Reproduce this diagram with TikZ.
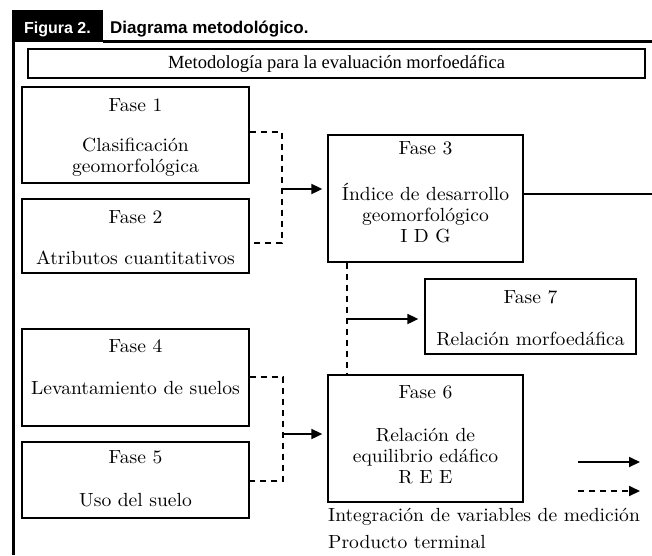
\documentclass[tikz,border=0pt]{standalone}
\usepackage{fontspec}
\setmainfont{lmroman10-regular.otf}[BoldFont=lmroman10-bold.otf,ItalicFont=lmroman10-italic.otf,FakeStretch=1.03]
\newfontfamily\hdrfont{Liberation Sans}
\newfontfamily\timesfont{Liberation Serif}
\usetikzlibrary{arrows.meta}
\begin{document}
\begin{tikzpicture}[x=1pt,y=-1pt,
  box/.style={draw,line width=1.3pt,inner sep=0pt},
  txt/.style={font=\fontsize{19}{21}\selectfont,align=center,inner sep=0pt},
  dsh/.style={line width=1.8pt,dash pattern=on 6pt off 5pt},
  arr/.style={line width=1.8pt,-{Triangle[length=11pt,width=10pt]}},
  darr/.style={line width=1.8pt,dash pattern=on 6pt off 5pt,-{Triangle[length=11pt,width=10pt]}}]
\useasboundingbox (0,0) rectangle (652,555);
% header
\fill[black] (12,10) rectangle (103,42);
\draw[line width=3pt] (13.5,10) -- (13.5,555);
\draw[line width=2.5pt] (103,41.5) -- (652,41.5);
\node[font=\hdrfont\bfseries\fontsize{16}{18}\selectfont,text=white,inner sep=0pt] (hf) at (57.5,29) {Figura 2.};
\node[font=\hdrfont\bfseries\fontsize{17}{18}\selectfont,inner sep=0pt,anchor=west] (hd) at (110,29) {Diagrama metodológico.};
% title
\node[box,minimum width=617,minimum height=29,font=\timesfont\fontsize{18.5}{21}\selectfont] (title) at (336.5,63.5) {Metodología para la evaluación morfoedáfica};
% boxes
\node[box,minimum width=227,minimum height=96] (f1) at (135.5,135) {};
\node[box,minimum width=227,minimum height=74] (f2) at (135.5,236) {};
\node[box,minimum width=195,minimum height=127] (f3) at (425.5,198.5) {};
\node[box,minimum width=211,minimum height=75] (f7) at (530.5,316.5) {};
\node[box,minimum width=195,minimum height=127] (f6) at (425.5,438.5) {};
\node[box,minimum width=227,minimum height=97] (f4) at (135.5,377.5) {};
\node[box,minimum width=227,minimum height=76] (f5) at (135.5,480) {};
% texts
\node[txt] (t1a) at (135.5,105) {Fase 1};
\node[txt] (t1b) at (135.5,157.5) {Clasificación\\geomorfológica};
\node[txt] (t2a) at (135.5,217) {Fase 2};
\node[txt] (t2b) at (135.5,258) {Atributos cuantitativos};
\node[txt] (t3a) at (425.5,148) {Fase 3};
\node[txt] (t3b) at (425.5,213) {Índice de desarrollo\\geomorfológico\\I D G};
\node[txt] (t7a) at (530.5,297) {Fase 7};
\node[txt] (t7b) at (530.5,339) {Relación morfoedáfica};
\node[txt] (t6a) at (425.5,392) {Fase 6};
\node[txt] (t6b) at (425.5,456) {Relación de\\equilibrio edáfico\\R E E};
\node[txt] (t4a) at (135.5,346) {Fase 4};
\node[txt] (t4b) at (135.5,388) {Levantamiento de suelos};
\node[txt] (t5a) at (135.5,457) {Fase 5};
\node[txt] (t5b) at (135.5,500) {Uso del suelo};
\node[txt,anchor=west] (l1) at (328,517) {Integración de variables de medición};
\node[txt,anchor=west] (l2) at (328,542) {Producto terminal};
% connectors
\coordinate (b1t) at (282,132);
\coordinate (b1b) at (282,243);
\coordinate (a1) at (282,189);
\draw[dsh] (f1.east |- b1t) -- (b1t) -- (b1b) -- (f2.east |- b1b);
\draw[arr,shorten >=5pt] (a1) -- (f3.west |- a1);
\coordinate (b2t) at (283,377);
\coordinate (b2b) at (283,481);
\coordinate (a2) at (283,434);
\draw[dsh] (f4.east |- b2t) -- (b2t) -- (b2b) -- (f5.east |- b2b);
\draw[arr,shorten >=5pt] (a2) -- (f6.west |- a2);
\coordinate (rt) at (652,194);
\draw[line width=1.5pt] (f3.east |- rt) -- (rt);
\coordinate (v) at (347,0);
\draw[dsh] (f3.south -| v) -- (f6.north -| v);
\coordinate (a3) at (347,319);
\draw[arr,shorten >=6pt] (a3) -- (f7.west |- a3);
% legend
\coordinate (la) at (578,462);
\coordinate (lb) at (640,462);
\coordinate (lc) at (578,491);
\coordinate (ld) at (640,491);
\draw[arr] (la) -- (lb);
\draw[darr] (lc) -- (ld);
\end{tikzpicture}
\end{document}
